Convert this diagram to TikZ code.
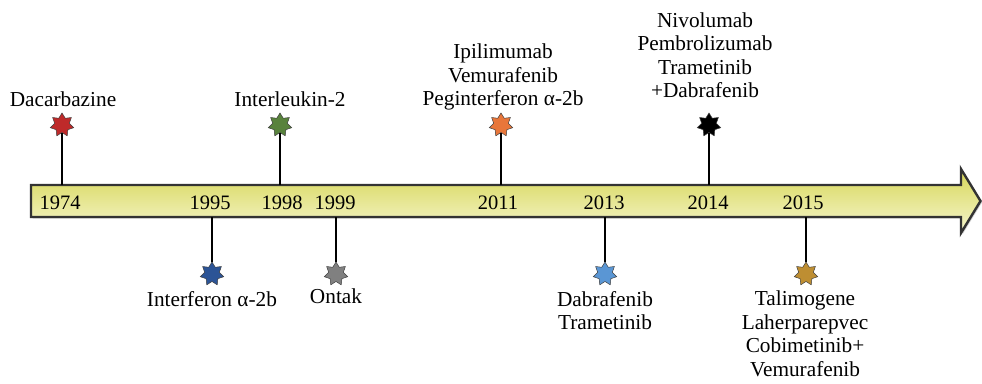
\documentclass[tikz,border=0pt]{standalone}
\usepackage{fontspec}
\setmainfont{Liberation Serif}
\usepackage{xcolor}
\usetikzlibrary{shapes.geometric,shadows}

\definecolor{barTop}{RGB}{214,214,88}
\definecolor{barMid}{RGB}{228,228,118}
\definecolor{barBot}{RGB}{246,246,206}
\definecolor{starRed}{RGB}{190,42,42}
\definecolor{starGreen}{RGB}{88,130,60}
\definecolor{starOrange}{RGB}{232,118,58}
\definecolor{starNavy}{RGB}{44,84,150}
\definecolor{starGray}{RGB}{128,128,128}
\definecolor{starSky}{RGB}{90,150,212}
\definecolor{starGold}{RGB}{190,142,50}

\begin{document}
\begin{tikzpicture}[x=1pt, y=-1pt,
  every node/.style={inner sep=0pt},
  txt/.style={font=\fontsize{21.3}{23.5}\selectfont, align=center},
  above label/.style={txt, anchor=south, text depth=0pt},
  below label/.style={txt, anchor=north},
  year/.style={font=\fontsize{20.5}{23.5}\selectfont, anchor=base},
  drugstar/.style={star, star points=7, star point ratio=1.6, minimum size=24pt,
    draw=black!75, line width=0.5pt, fill=#1},
  stem/.style={line width=1.8pt}]
  \useasboundingbox (0,0) rectangle (982,383);

  % time line
  \draw[line width=2.4pt, draw=black!80, top color=barTop, middle color=barMid,
    bottom color=barBot, drop shadow={shadow xshift=1.5pt, shadow yshift=-1.5pt, opacity=0.35}]
    (31,185) -- (961,185) -- (961,169) -- (980.5,201) -- (961,233) -- (961,217) -- (31,217) -- cycle;
  \coordinate (up) at (0,185);
  \coordinate (down) at (0,217);

  \node[year] (y1974) at (60,209) {1974};
  \node[year] (y1995) at (210,209) {1995};
  \node[year] (y1998) at (282,209) {1998};
  \node[year] (y1999) at (335,209) {1999};
  \node[year] (y2011) at (498,209) {2011};
  \node[year] (y2013) at (604,209) {2013};
  \node[year] (y2014) at (708,209) {2014};
  \node[year] (y2015) at (803,209) {2015};

  % above the line
  \node[drugstar=starRed] (s1974) at (62,125) {};
  \node[drugstar=starGreen] (s1998) at (280,125) {};
  \node[drugstar=starOrange] (s2011) at (501,125) {};
  \node[drugstar=black] (s2014) at (709,125) {};
  \node[above label] (l1974) at (63,107) {Dacarbazine};
  \node[above label] (l1998) at (290,107) {Interleukin-2};
  \node[above label] (l2011) at (503,106) {Ipilimumab\\Vemurafenib\\Peginterferon α-2b};
  \node[above label] (l2014) at (705,98) {Nivolumab\\Pembrolizumab\\Trametinib\\+Dabrafenib};
  \draw[stem] (s1974) -- (s1974 |- up);
  \draw[stem] (s1998) -- (s1998 |- up);
  \draw[stem] (s2011) -- (s2011 |- up);
  \draw[stem] (s2014) -- (s2014 |- up);

  % below the line
  \node[drugstar=starNavy] (s1995) at (212,274) {};
  \node[drugstar=starGray] (s1999) at (336,274) {};
  \node[drugstar=starSky] (s2013) at (605,274) {};
  \node[drugstar=starGold] (s2015) at (806,274) {};
  \node[below label] (l1995) at (212,291) {Interferon α-2b};
  \node[below label] (l1999) at (336,289) {Ontak};
  \node[below label] (l2013) at (605,291) {Dabrafenib\\Trametinib};
  \node[below label] (l2015) at (805,291) {Talimogene\\Laherparepvec\\Cobimetinib+\\Vemurafenib};
  \draw[stem] (s1995 |- down) -- (s1995);
  \draw[stem] (s1999 |- down) -- (s1999);
  \draw[stem] (s2013 |- down) -- (s2013);
  \draw[stem] (s2015 |- down) -- (s2015);
\end{tikzpicture}
\end{document}
